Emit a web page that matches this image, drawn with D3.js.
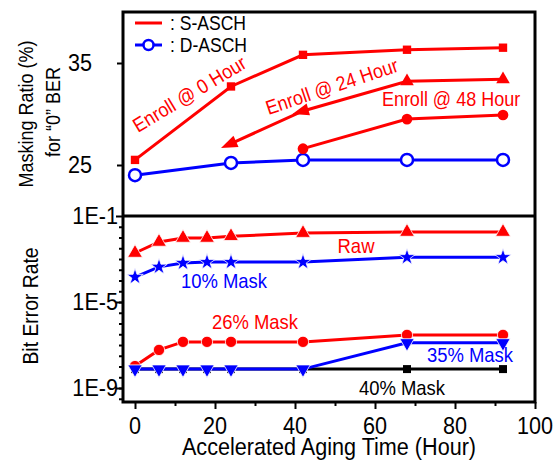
<!DOCTYPE html>
<html>
<head>
<meta charset="utf-8">
<script src="https://cdn.jsdelivr.net/npm/d3@7"></script>
<style>
  body { margin: 0; background: #fff; }
  text { font-family: "Liberation Sans", Arial, sans-serif; }
</style>
</head>
<body>
<svg id="chart" width="558" height="466"></svg>
<script>
// top panel: masking ratio (%) for "0" BER
const enroll0Hours = [0, 24, 42, 68, 92];
const enroll0Ratio = [25.5, 32.7, 35.8, 36.3, 36.5];
const enroll24Hours = [24, 42, 68, 92];
const enroll24Ratio = [27.1, 30.3, 33.2, 33.4];
const enroll48Hours = [42, 68, 92];
const enroll48Ratio = [26.6, 29.5, 29.9];
const dAschHours = [0, 24, 42, 68, 92];
const dAschRatio = [24.0, 25.2, 25.5, 25.5, 25.5];

// bottom panel: bit error rate
const berHours = [0, 6, 12, 18, 24, 42, 68, 92];
const berRaw = [1.9e-3, 6.2e-3, 9.5e-3, 9.5e-3, 1.15e-2, 1.6e-2, 1.8e-2, 1.8e-2];
const ber10 = [1.45e-4, 4.3e-4, 6.5e-4, 7.2e-4, 7.2e-4, 7.2e-4, 1.2e-3, 1.2e-3];
const ber26 = [1.05e-8, 5.9e-8, 1.4e-7, 1.4e-7, 1.4e-7, 1.4e-7, 2.95e-7, 2.95e-7];
const ber35 = [7.6e-9, 7.6e-9, 7.6e-9, 7.6e-9, 7.6e-9, 7.6e-9, 1.26e-7, 1.26e-7];
const ber40Hours = [0, 6, 12, 18, 24, 42, 68, 92];
const ber40 = [7.6e-9, 7.6e-9, 7.6e-9, 7.6e-9, 7.6e-9, 7.6e-9, 7.6e-9, 7.6e-9];

const xMajorTicks = [0, 20, 40, 60, 80, 100];
const xMinorTicks = [10, 30, 50, 70, 90];
const ratioTicks = [25, 35];
const berLabelTicks = [1e-1, 1e-5, 1e-9];

const svg = d3.select("#chart");
const frame = { left: 123, right: 535, top: 12, mid: 216, bottom: 402 };
const sx = 0.9; // the original font is a bit condensed

const x = d3.scaleLinear().domain([-3, 100]).range([frame.left, frame.right]);
const yTop = d3.scaleLinear().domain([20, 40]).range([frame.mid, frame.top]);
const yBot = d3.scaleLog().domain([Math.pow(10, -9.65), 0.1]).range([frame.bottom, frame.mid]);

const RED = "#ff0000", BLUE = "#0000ff";

function label(txt, px, py, size, color, anchor, rot) {
  svg.append("text")
    .attr("transform", `translate(${px},${py}) rotate(${rot || 0}) scale(${sx},1)`)
    .attr("text-anchor", anchor || "middle")
    .attr("font-size", size)
    .attr("fill", color || "#000")
    .text(txt);
}

function drawSeries(hours, vals, yScale, color, symbol, opts) {
  opts = opts || {};
  const pts = hours.map((h, i) => [x(h), yScale(vals[i])]);
  svg.append("path")
    .datum(pts)
    .attr("fill", "none")
    .attr("stroke", color)
    .attr("stroke-width", 3)
    .attr("d", d3.line());
  pts.forEach((p, i) => {
    if (opts.arrows && i < opts.arrows) {
      // arrowhead pointing back along the line
      const q = pts[i + 1];
      const ang = Math.atan2(p[1] - q[1], p[0] - q[0]) * 180 / Math.PI + 90;
      svg.append("path")
        .attr("d", d3.symbol().type(d3.symbolTriangle).size(opts.size || 80)())
        .attr("transform", `translate(${p[0]},${p[1]}) rotate(${ang}) scale(0.9,1.4)`)
        .attr("fill", color);
      return;
    }
    if (symbol === "open") {
      svg.append("circle").attr("cx", p[0]).attr("cy", p[1]).attr("r", 6)
        .attr("fill", "#fff").attr("stroke", color).attr("stroke-width", 2.5);
      return;
    }
    svg.append("path")
      .attr("d", d3.symbol().type(symbol).size(opts.size || 70)())
      .attr("transform", `translate(${p[0]},${p[1]}) rotate(${opts.rot || 0})`)
      .attr("fill", color)
      .attr("stroke", opts.outline ? "#fff" : "none")
      .attr("stroke-width", 0.8);
  });
}

// axes ticks
const xAxis = svg.append("g").attr("transform", `translate(0,${frame.bottom})`);
xAxis.call(d3.axisBottom(x).tickValues(xMajorTicks).tickSize(7).tickFormat(""));
xAxis.append("g").call(d3.axisBottom(x).tickValues(xMinorTicks).tickSize(4).tickFormat(""));
xAxis.selectAll(".domain").remove();
xAxis.selectAll("line").attr("stroke-width", 2);
xMajorTicks.forEach(t => label(t, x(t), 434, 24));

const yAxisTop = svg.append("g").attr("transform", `translate(${frame.left},0)`)
  .call(d3.axisLeft(yTop).tickValues(ratioTicks).tickSize(6).tickFormat(""));
yAxisTop.selectAll(".domain").remove();
yAxisTop.selectAll("line").attr("stroke-width", 2);
ratioTicks.forEach(t => label(t, 92, yTop(t) + 8, 24, "#000", "end"));

const halfDecades = d3.range(-9.5, -1, 0.5).map(e => Math.pow(10, e));
const yAxisBot = svg.append("g").attr("transform", `translate(${frame.left},0)`)
  .call(d3.axisLeft(yBot).tickValues(halfDecades).tickSize(4).tickFormat(""));
yAxisBot.append("g").call(d3.axisLeft(yBot).tickValues(berLabelTicks).tickSize(7).tickFormat(""));
yAxisBot.selectAll(".domain").remove();
yAxisBot.selectAll("line").attr("stroke-width", 2);
berLabelTicks.forEach(t => label("1E" + Math.round(Math.log10(t)), frame.left - 5, yBot(t) + 8, 24, "#000", "end"));

// frame
svg.append("rect").attr("x", frame.left).attr("y", frame.top)
  .attr("width", frame.right - frame.left).attr("height", frame.bottom - frame.top)
  .attr("fill", "none").attr("stroke", "#000").attr("stroke-width", 3);
svg.append("line").attr("x1", frame.left).attr("x2", frame.right)
  .attr("y1", frame.mid).attr("y2", frame.mid)
  .attr("stroke", "#000").attr("stroke-width", 3);

// top panel series
drawSeries(dAschHours, dAschRatio, yTop, BLUE, "open");
drawSeries(enroll0Hours, enroll0Ratio, yTop, RED, d3.symbolSquare, { size: 70 });
drawSeries(enroll24Hours, enroll24Ratio, yTop, RED, d3.symbolTriangle, { size: 80, arrows: 2 });
drawSeries(enroll48Hours, enroll48Ratio, yTop, RED, d3.symbolCircle, { size: 90 });

// legend
svg.append("line").attr("x1", 135).attr("x2", 162).attr("y1", 23).attr("y2", 23)
  .attr("stroke", RED).attr("stroke-width", 3);
label(": S-ASCH", 170, 30, 19.5, "#000", "start");
svg.append("line").attr("x1", 135).attr("x2", 162).attr("y1", 45).attr("y2", 45)
  .attr("stroke", BLUE).attr("stroke-width", 3);
svg.append("circle").attr("cx", 148.5).attr("cy", 45).attr("r", 5)
  .attr("fill", "#fff").attr("stroke", BLUE).attr("stroke-width", 2.5);
label(": D-ASCH", 170, 52, 19.5, "#000", "start");

label("Enroll @ 0 Hour", 193, 100, 20, RED, "middle", -31);
label("Enroll @ 24 Hour", 334, 93, 20, RED, "middle", -18.5);
label("Enroll @ 48 Hour", 451, 106, 20, RED, "middle");

// bottom panel series
drawSeries(ber40Hours, ber40, yBot, "#000", d3.symbolSquare, { size: 64 });
drawSeries(berHours, ber26, yBot, RED, d3.symbolCircle, { size: 100, outline: true });
drawSeries(berHours, ber35, yBot, BLUE, d3.symbolTriangle, { size: 90, rot: 180, outline: true });
drawSeries(berHours, ber10, yBot, BLUE, d3.symbolStar, { size: 85, outline: true });
drawSeries(berHours, berRaw, yBot, RED, d3.symbolTriangle, { size: 95, outline: true });

label("Raw", 356, 253, 20.5, RED);
label("10% Mask", 224, 288, 20.5, BLUE);
label("26% Mask", 255, 329, 20.5, RED);
label("35% Mask", 470, 362, 20.5, BLUE);
label("40% Mask", 402, 395, 20.5, "#000");

// axis titles
label("Accelerated Aging Time (Hour)", 329, 455, 24);
label("Masking Ratio (%)", 33, 114, 20, "#000", "middle", -90);
label("for \u201c0\u201d BER", 60, 112, 20, "#000", "middle", -90);
label("Bit Error Rate", 38, 306, 21.5, "#000", "middle", -90);
</script>
</body>
</html>
